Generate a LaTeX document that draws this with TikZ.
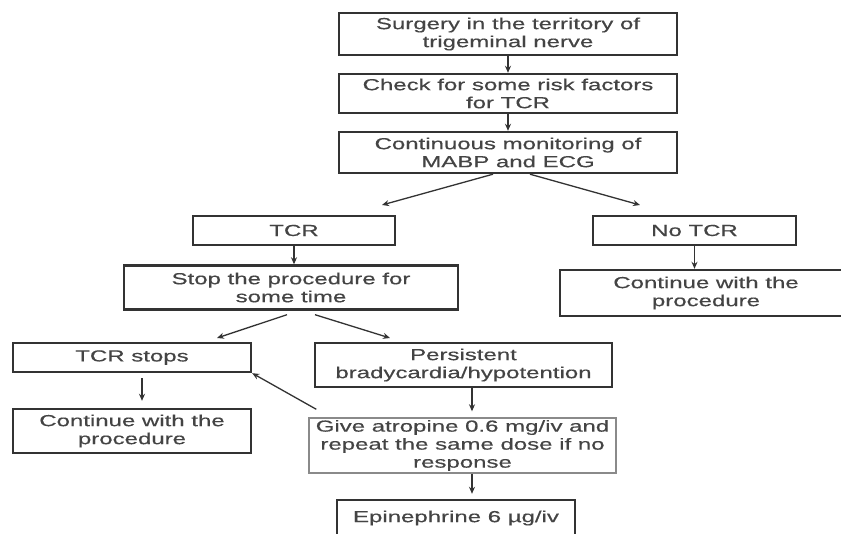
\documentclass[tikz,border=0pt]{standalone}
\usepackage{fontspec}
\setmainfont{Liberation Sans}[FakeStretch=1.5,FakeBold=0.4]
\usetikzlibrary{arrows.meta,calc}
\definecolor{ink}{HTML}{333333}
\definecolor{txt}{HTML}{444444}
\definecolor{lite}{HTML}{8A8A8A}
\begin{document}
\begin{tikzpicture}[x=1pt,y=-1pt,
  box/.style={draw=ink,line width=2.4pt,align=center,inner sep=0pt,text=txt,
    font=\fontsize{16}{18}\selectfont},
  litebox/.style={box,draw=lite,line width=1.4pt},
  arr/.style={draw=ink,line width=1.3pt,-{Stealth[length=7pt,width=6pt]}}]
\useasboundingbox (0,0) rectangle (841,534);
\clip (0,0) rectangle (841,534);
\fill[white] (0,0) rectangle (841,534);

\node[box,minimum width=338pt,minimum height=42pt] (s1) at (508,34) {Surgery in the territory of\\trigeminal nerve};
\node[box,minimum width=338pt,minimum height=39pt] (s2) at (508,93.5) {Check for some risk factors\\for TCR};
\node[box,minimum width=338pt,minimum height=41pt] (s3) at (508,152.5) {Continuous monitoring of\\MABP and ECG};

\node[box,minimum width=202pt,minimum height=29pt] (tcr) at (294,230.5) {TCR};
\node[box,minimum width=203pt,minimum height=29pt] (notcr) at (694.5,230.5) {No TCR};

\node[box,minimum width=334pt,minimum height=44pt] (stop) at (291,287.5) {Stop the procedure for\\some time};
\node[box,minimum width=292pt,minimum height=46pt] (contr) at (706,293) {Continue with the\\procedure};

\node[box,minimum width=238pt,minimum height=29pt] (tcrs) at (132,357.5) {TCR stops};
\node[box,minimum width=238pt,minimum height=44pt] (contl) at (132,431) {Continue with the\\procedure};

\node[box,minimum width=297pt,minimum height=44pt] (pers) at (463.5,365) {Persistent\\bradycardia/hypotention};
\node[litebox,minimum width=307pt,minimum height=55pt] (atr) at (462.5,445.5) {Give atropine 0.6 mg/iv and\\repeat the same dose if no\\response};
\node[box,minimum width=238pt,minimum height=36pt] (epi) at (456,518) {Epinephrine 6 µg/iv};

\coordinate (tcrtip) at (382,205);
\coordinate (notcrtip) at (640,205);
\coordinate (tsl) at (217,338);
\coordinate (tsr) at (390,338);

\draw[arr] (s1) -- (s2);
\draw[arr] (s2) -- (s3);
\draw[arr] ([xshift=-15pt]s3.south) -- (tcrtip);
\draw[arr] ([xshift=22pt]s3.south) -- (notcrtip);
\draw[arr] (tcr.south) -- (tcr.south |- stop.north);
\draw[arr] (notcr.south) -- (notcr.south |- contr.north);
\draw[arr] ($(stop.south)+(-4,4)$) -- (tsl);
\draw[arr] ($(stop.south)+(24,4)$) -- (tsr);
\draw[arr,shorten <=5pt,shorten >=7pt] ([xshift=10pt]tcrs.south) -- ([xshift=10pt]contl.north);
\draw[arr,shorten >=6pt] ([xshift=8.5pt]pers.south) -- ([xshift=8.5pt]pers.south |- atr.north);
\draw[arr,shorten >=5pt] ([xshift=9.5pt]atr.south) -- ([xshift=9.5pt]atr.south |- epi.north);
\draw[arr] ($(atr.north west)+(8,-8)$) -- (tcrs.south east);
\end{tikzpicture}
\end{document}
